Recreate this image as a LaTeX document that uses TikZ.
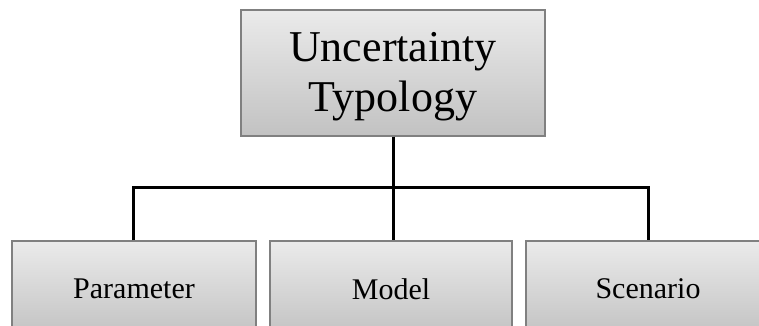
\documentclass[tikz,border=0pt]{standalone}
\usepackage{fontspec}
\setmainfont{Liberation Serif}
\begin{document}
\begin{tikzpicture}[x=1pt,y=1pt,
  boxstyle/.style={draw=black!50, line width=1.2pt, top color=black!8, bottom color=black!24, inner sep=0pt},
  link/.style={line width=3pt, black}]
\useasboundingbox (0,0) rectangle (759,-326);
\clip (0,0) rectangle (759,-326);
\fill[white] (0,0) rectangle (759,-326);
\node[boxstyle, minimum width=304pt, minimum height=126pt,
      label={[align=center, font=\fontsize{44}{50}\selectfont, yshift=-4pt]center:Uncertainty\\Typology}] (top) at (393,-73) {};
\node[boxstyle, minimum width=244pt, minimum height=96pt, font=\fontsize{30}{36}\selectfont] (p) at (134,-289) {Parameter};
\node[boxstyle, minimum width=242pt, minimum height=96pt, font=\fontsize{30}{36}\selectfont] (m) at (391,-289) {Model};
\node[boxstyle, minimum width=244pt, minimum height=96pt, font=\fontsize{30}{36}\selectfont] (s) at (648,-289) {Scenario};
\coordinate (bus) at (393,-187);
\draw[link] (top.south) -- (top.south |- p.north);
\draw[link] (p.north -| 133,0) |- (bus) -| (s.north);
\end{tikzpicture}
\end{document}
